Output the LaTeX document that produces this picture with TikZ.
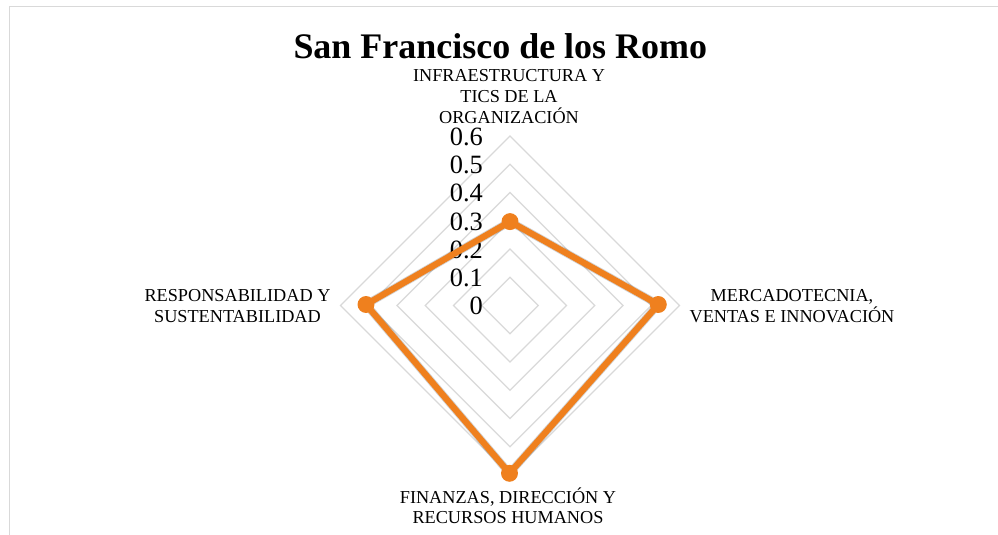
\documentclass[tikz,border=0pt]{standalone}
\usepackage{fontspec}
\setmainfont{Liberation Serif}
\usetikzlibrary{calc}
\definecolor{gridgray}{RGB}{217,217,217}
\definecolor{frameg}{RGB}{217,217,217}
\definecolor{dataor}{RGB}{239,128,30}
\tikzset{
  gridring/.style={draw=gridgray, line width=1.4pt},
  framel/.style={draw=frameg, line width=1.6pt},
  ticklab/.style={anchor=base east, inner sep=0pt, font=\fontsize{26.5}{28}\selectfont},
  catlab/.style={anchor=north, inner sep=0pt, align=center, font=\fontsize{18.3}{20.8}\selectfont},
  titlelab/.style={anchor=base, inner sep=0pt, font=\fontsize{36.1}{40}\selectfont\bfseries},
  dataline/.style={draw=dataor, line width=6.3pt, line join=round},
  shadowline/.style={draw=black, opacity=0.18, line width=8pt, line join=round},
  marker/.style={circle, fill=dataor, minimum size=17pt, inner sep=0pt},
}
\begin{document}
\begin{tikzpicture}[x=1bp, y=-1bp]
\useasboundingbox (0,0) rectangle (998,535);
\fill[white] (0,0) rectangle (998,535);
% frame (cut at right and bottom)
\coordinate (fTL) at (9.5,6.5);
\coordinate (fTR) at (998,6.5);
\coordinate (fBL) at (9.5,535);
\draw[framel] (fTR) -- (fTL) -- (fBL);
% centre
\coordinate (O) at (510,305.5);
% grid rings
\foreach \k in {1,...,6} {
  \draw[gridring] ($(O)+(0,-28.25*\k)$) -- ($(O)+(28.25*\k,0)$) -- ($(O)+(0,28.25*\k)$) -- ($(O)+(-28.25*\k,0)$) -- cycle;
}
% tick labels
\foreach \k/\t in {0/0,1/0.1,2/0.2,3/0.3,4/0.4,5/0.5,6/0.6} {
  \node[ticklab] (t\k) at (483,{305.5-28.25*\k+9.5}) {\t};
}
% title
\node[titlelab] (title) at (500.3,58.5) {San Francisco de los Romo};
% category labels
\node[catlab] (cT) at (509,69.5) {INFRAESTRUCTURA Y\\TICS DE LA\\ORGANIZACIÓN};
\node[catlab] (cR) at (792,289.5) {MERCADOTECNIA,\\VENTAS E INNOVACIÓN};
\node[catlab] (cB) at (508,487.2) {FINANZAS, DIRECCIÓN Y\\RECURSOS HUMANOS};
\node[catlab] (cL) at (237.5,289.5) {RESPONSABILIDAD Y\\SUSTENTABILIDAD};
% data
\coordinate (pT) at (510,221.6);
\coordinate (pR) at (658.3,304.5);
\coordinate (pB) at (509.5,473.3);
\coordinate (pL) at (366,304.5);
\begin{scope}[shift={(2,3)}]
\draw[shadowline] (pT) -- (pR) -- (pB) -- (pL) -- cycle;
\end{scope}
\draw[dataline] (pT) -- (pR) -- (pB) -- (pL) -- cycle;
\node[marker] (mT) at (pT) {};
\node[marker] (mR) at (pR) {};
\node[marker] (mB) at (pB) {};
\node[marker] (mL) at (pL) {};
\end{tikzpicture}
\end{document}
